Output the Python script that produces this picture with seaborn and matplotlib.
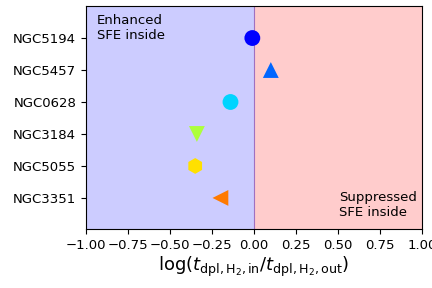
import numpy as np
import pandas as pd
import seaborn as sns
import matplotlib.pyplot as plt

galaxies = ["NGC5194", "NGC5457", "NGC0628", "NGC3184", "NGC5055", "NGC3351"]
log_ratio = [-0.01, 0.10, -0.14, -0.34, -0.35, -0.20]
markers = ["o", "^", "o", "v", "h", "<"]
colors = ["#0000ff", "#0066ff", "#00d4ff", "#adff3c", "#ffe000", "#ff7a00"]

df = pd.DataFrame({"galaxy": galaxies, "ratio": log_ratio,
                   "pos": np.arange(len(galaxies))})

fig = plt.figure(figsize=(4.32, 2.88), dpi=100)
ax = fig.add_axes([0.199, 0.205, 0.778, 0.774])

ax.axvspan(-1, 0, color="blue", alpha=0.2, lw=0)
ax.axvspan(0, 1, color="red", alpha=0.2, lw=0)
ax.axvline(0, color="#a070c0", lw=0.8)

sns.scatterplot(data=df, x="ratio", y="pos", hue="galaxy", style="galaxy",
                palette=dict(zip(galaxies, colors)),
                markers=dict(zip(galaxies, markers)),
                s=130, linewidth=0, legend=False, ax=ax, zorder=3)

ax.set_xlim(-1, 1)
ax.set_ylim(5.97, -1)
ax.set_yticks(df["pos"])
ax.set_yticklabels(galaxies)
ax.set_xticks(np.arange(-1, 1.01, 0.25))
ax.tick_params(labelsize=9.5)
ax.set_ylabel("")
ax.set_xlabel(r"$\log(t_{\mathrm{dpl,H_2,in}}/t_{\mathrm{dpl,H_2,out}})$",
              fontsize=13, labelpad=2)

ax.text(0.033, 0.965, "Enhanced\nSFE inside", transform=ax.transAxes,
        fontsize=9.5, va="top", ha="left")
ax.text(0.752, 0.045, "Suppressed\nSFE inside", transform=ax.transAxes,
        fontsize=9.5, va="bottom", ha="left")

fig.savefig("out.png", dpi=100)
